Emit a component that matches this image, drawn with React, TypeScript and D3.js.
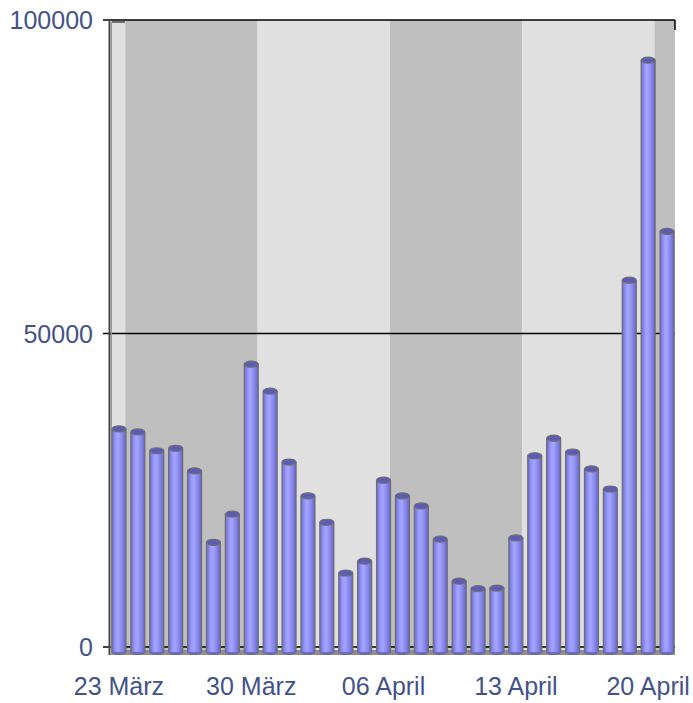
import React from "react";
import * as d3 from "d3";

const days = [
  "23.03", "24.03", "25.03", "26.03", "27.03", "28.03", "29.03", "30.03",
  "31.03", "01.04", "02.04", "03.04", "04.04", "05.04", "06.04", "07.04",
  "08.04", "09.04", "10.04", "11.04", "12.04", "13.04", "14.04", "15.04",
  "16.04", "17.04", "18.04", "19.04", "20.04", "21.04",
];
const values = [
  34800, 34300, 31300, 31700, 28100, 16700, 21200, 45100, 40800, 29500,
  24100, 19900, 11800, 13700, 26600, 24100, 22500, 17200, 10500, 9300,
  9400, 17400, 30500, 33300, 31100, 28400, 25200, 58500, 93600, 66300,
];
const xTickDays = ["23.03", "30.03", "06.04", "13.04", "20.04"];
const xTickLabels = ["23 März", "30 März", "06 April", "13 April", "20 April"];
const yTicks = [0, 50000, 100000];
// week bands: first day index of each band, and shade
const bandStarts = [0, 1, 8, 15, 22, 29];
const bandShades = ["light", "dark", "light", "dark", "light", "dark"];

const W = 693;
const H = 703;
const plotLeft = 111;
const plotRight = 675;
const plotTop = 20;
const floorY = 647;

export default function App() {
  const x = d3.scaleBand<string>().domain(days).range([109.5, 676.5]).padding(0);
  const y = d3.scaleLinear().domain([0, 100000]).range([floorY, plotTop]);
  const bw = x.bandwidth();
  const barW = 14;
  const depth = 3.15;
  const font = "'Liberation Sans', Arial, sans-serif";
  const textColor = "#44528a";

  const bandRects = bandStarts.map((s, i) => {
    const x0 = i === 0 ? plotLeft : (x(days[s]) as number) - depth;
    const x1 =
      i === bandStarts.length - 1
        ? plotRight
        : (x(days[bandStarts[i + 1]]) as number) - depth;
    return { x0: Math.max(plotLeft, x0), x1: Math.min(plotRight, x1), shade: bandShades[i] };
  });

  return (
    <svg
      width={W}
      height={H}
      style={{ position: "absolute", left: 0, top: 0, background: "#fff" }}
    >
      <defs>
        <linearGradient id="cyl" x1="0" x2="1" y1="0" y2="0">
          <stop offset="0%" stopColor="#6a6ad2" />
          <stop offset="30%" stopColor="#9c9cff" />
          <stop offset="45%" stopColor="#a4a4ff" />
          <stop offset="75%" stopColor="#8585ea" />
          <stop offset="100%" stopColor="#6464c4" />
        </linearGradient>
      </defs>
      {/* background bands */}
      {bandRects.map((b, i) => (
        <rect
          key={i}
          x={b.x0}
          y={plotTop}
          width={b.x1 - b.x0}
          height={floorY - plotTop + 3}
          fill={b.shade === "light" ? "#e0e0e0" : "#bfbfbf"}
        />
      ))}
      {/* floor */}
      <rect x={plotLeft + 1} y={floorY + 3} width={plotRight - plotLeft - 1} height={5} fill="#8e8e8e" />
      {/* gridlines */}
      {yTicks.map((t) => (
        <line
          key={t}
          x1={103}
          x2={plotRight}
          y1={y(t)}
          y2={y(t)}
          stroke="#000"
          strokeWidth={1.5}
        />
      ))}
      <line x1={plotRight} x2={plotRight} y1={plotTop} y2={plotTop + 10} stroke="#000" strokeWidth={1.5} />
      <rect x={112} y={plotTop + 1} width={13} height={2} fill="#707070" />
      {/* left axis */}
      <line x1={109.5} x2={109.5} y1={plotTop} y2={floorY + 8} stroke="#444" strokeWidth={2} />
      <line x1={111.5} x2={111.5} y1={plotTop + 2} y2={floorY + 8} stroke="#9a9a9a" strokeWidth={1} />
      {/* bars */}
      {values.map((v, i) => {
        const cx = (x(days[i]) as number) + bw / 2;
        const top = y(v);
        const bottom = floorY + 5;
        const x0 = cx - barW / 2;
        return (
          <g key={i}>
            <ellipse cx={cx} cy={bottom} rx={barW / 2} ry={2.5} fill="#6a6ad2" stroke="#6e6e6e" strokeWidth={1} />
            <rect x={x0} y={top} width={barW} height={bottom - top} fill="url(#cyl)" />
            <line x1={x0} x2={x0} y1={top} y2={bottom} stroke="#6e6e6e" strokeWidth={1.2} />
            <line x1={x0 + barW} x2={x0 + barW} y1={top} y2={bottom} stroke="#6e6e6e" strokeWidth={1.2} />
            <ellipse cx={cx} cy={top} rx={barW / 2} ry={3} fill="#5c5cb4" stroke="#6e6e6e" strokeWidth={1.2} />
          </g>
        );
      })}
      {/* y tick labels */}
      {yTicks.map((t) => (
        <text
          key={t}
          x={93}
          y={y(t)}
          textAnchor="end"
          dominantBaseline="central"
          fontFamily={font}
          fontSize={25}
          fill={textColor}
        >
          {t}
        </text>
      ))}
      {/* x tick labels */}
      {xTickDays.map((d, i) => (
        <text
          key={d}
          x={(x(d) as number) + bw / 2}
          y={695}
          textAnchor="middle"
          fontFamily={font}
          fontSize={25}
          fill={textColor}
        >
          {xTickLabels[i]}
        </text>
      ))}
    </svg>
  );
}
